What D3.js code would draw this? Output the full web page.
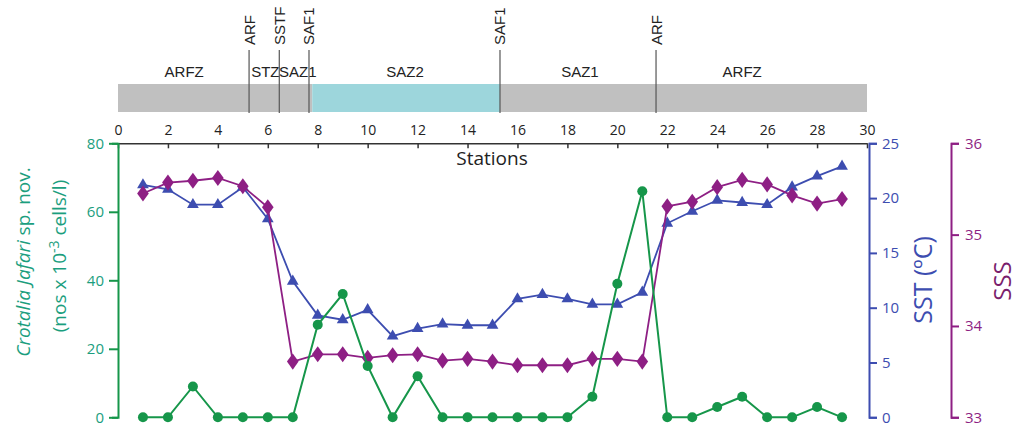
<!DOCTYPE html>
<html><head><meta charset="utf-8">
<script src="https://cdn.jsdelivr.net/npm/d3@7"></script>
<style>body{margin:0;background:#fff}svg{display:block}</style>
</head><body><svg id="c" width="1018" height="434"></svg>
<script>
const stations = d3.range(1, 30);
const cellCounts = [0,0,9,0,0,0,0,27,36,15,0,12,0,0,0,0,0,0,6,39,66,0,0,3,6,0,0,3,0];
const sst = [21.2,20.8,19.4,19.4,21.0,18.1,12.4,9.3,8.9,9.8,7.4,8.1,8.5,8.4,8.4,10.8,11.2,10.8,10.3,10.3,11.4,17.7,18.8,19.8,19.6,19.4,21.0,22.0,22.9];
const sss = [35.45,35.57,35.59,35.62,35.53,35.30,33.61,33.69,33.69,33.65,33.68,33.69,33.62,33.64,33.61,33.57,33.57,33.57,33.64,33.64,33.61,35.31,35.36,35.52,35.60,35.55,35.43,35.34,35.39];
const fronts = [{name:"ARF",x:5.25},{name:"SSTF",x:6.46},{name:"SAF1",x:7.65},{name:"SAF1",x:15.3},{name:"ARF",x:21.55}];
const zones = [{name:"ARFZ",from:0,to:5.25,fill:"#c0c0c0",lx:2.65},{name:"STZ",from:5.25,to:6.46,fill:"#c0c0c0",lx:5.9},{name:"SAZ1",from:6.46,to:7.78,fill:"#c0c0c0",lx:7.2},{name:"SAZ2",from:7.78,to:15.3,fill:"#9dd6dc",lx:11.5},{name:"SAZ1",from:15.3,to:21.55,fill:"#c0c0c0",lx:18.5},{name:"ARFZ",from:21.55,to:30,fill:"#c0c0c0",lx:25.0}];
const xTicks = d3.range(0, 31, 2);

const svg = d3.select("#c");
const yTop = 143.3, yBot = 417.3;
const x = d3.scaleLinear().domain([0,30]).range([118,867]);
const yC = d3.scaleLinear().domain([0,80]).range([yBot,yTop]);
const yT = d3.scaleLinear().domain([0,25]).range([yBot,yTop]);
const yS = d3.scaleLinear().domain([33,36]).range([yBot,yTop]);

const GREEN="#16964a", TEAL="#1b9e7e", BLUE="#3d4db0", PURPLE="#8e1f84", SSSLAB="#7a1d6c";
const f1 = "'Open Sans', sans-serif", f2 = "'Liberation Sans', Arial, sans-serif";

// zone band
svg.append("g").selectAll("rect").data(zones).join("rect")
  .attr("x", d=>x(d.from)).attr("width", d=>x(d.to)-x(d.from))
  .attr("y", 84).attr("height", 28).attr("fill", d=>d.fill);
svg.append("g").selectAll("text").data(zones).join("text")
  .attr("x", d=>x(d.lx)).attr("y", 77).attr("text-anchor","middle")
  .attr("font-family", f2).attr("font-size", 15).attr("fill","#222").text(d=>d.name);
const fr = svg.append("g").selectAll("g").data(fronts).join("g");
fr.append("line").attr("x1",d=>x(d.x)).attr("x2",d=>x(d.x)).attr("y1",50).attr("y2",113)
  .attr("stroke","#555").attr("stroke-width",1.2);
fr.append("text").attr("transform", d=>`translate(${x(d.x)+5.5},45) rotate(-90)`)
  .attr("font-family", f2).attr("font-size", 15).attr("fill","#222").text(d=>d.name);

// top axis
const ax = svg.append("g").attr("transform",`translate(0,${yTop})`)
  .call(d3.axisTop(x).tickValues(xTicks).tickSizeInner(-5).tickSizeOuter(0).tickPadding(8));
ax.select(".domain").attr("stroke","#333").attr("stroke-width",1.5);
ax.selectAll(".tick line").attr("stroke","#333").attr("stroke-width",1.5);
ax.selectAll("text").attr("font-family",f1).attr("font-size",14).attr("fill","#222");
svg.append("text").attr("x",492).attr("y",165).attr("text-anchor","middle")
  .attr("font-family",f1).attr("font-size",19).attr("fill","#222").text("Stations");

// left axis
const al = svg.append("g").attr("transform",`translate(118,0)`)
  .call(d3.axisLeft(yC).tickValues([0,20,40,60,80]).tickSizeInner(9).tickSizeOuter(6).tickPadding(5));
al.selectAll(".domain,.tick line").attr("stroke",GREEN).attr("stroke-width",2);
al.selectAll("text").attr("font-family",f1).attr("font-size",15).attr("fill",TEAL);

// SST axis
const at = svg.append("g").attr("transform",`translate(869,0)`)
  .call(d3.axisRight(yT).tickValues([0,5,10,15,20,25]).tickSizeInner(8).tickSizeOuter(8).tickPadding(5));
at.selectAll(".domain,.tick line").attr("stroke",BLUE).attr("stroke-width",2);
at.selectAll("text").attr("font-family",f1).attr("font-size",15).attr("fill",BLUE);

// SSS axis
const as = svg.append("g").attr("transform",`translate(951,0)`)
  .call(d3.axisRight(yS).tickValues([33,34,35,36]).tickFormat(d3.format("d")).tickSizeInner(8).tickSizeOuter(8).tickPadding(6));
as.selectAll(".domain,.tick line").attr("stroke",PURPLE).attr("stroke-width",2);
as.selectAll("text").attr("font-family",f1).attr("font-size",15).attr("fill",PURPLE);

// axis titles
const lt = svg.append("text").attr("transform","translate(30,262) rotate(-90)")
  .attr("text-anchor","middle").attr("font-family",f1).attr("font-size",19).attr("fill",TEAL);
lt.append("tspan").attr("font-style","italic").text("Crotalia Jafari");
lt.append("tspan").text(" sp. nov.");
const lt2 = svg.append("text").attr("transform","translate(66,256) rotate(-90)")
  .attr("text-anchor","middle").attr("font-family",f1).attr("font-size",19).attr("fill",TEAL);
lt2.append("tspan").text("(nos x 10");
lt2.append("tspan").attr("dy",-7).attr("font-size",14).text("-3");
lt2.append("tspan").attr("dy",7).text(" cells/l)");
svg.append("text").attr("transform","translate(932,280) rotate(-90)")
  .attr("text-anchor","middle").attr("font-family",f1).attr("font-size",25).attr("fill",BLUE).text("SST (ºC)");
svg.append("text").attr("transform","translate(1011,281) rotate(-90)")
  .attr("text-anchor","middle").attr("font-family",f1).attr("font-size",24).attr("fill",SSSLAB).text("SSS");

// series
const mk = (vals, ys) => stations.map((s,i)=>({s, v: vals[i], y: ys(vals[i])}));
const dT = mk(sst, yT), dS = mk(sss, yS), dC = mk(cellCounts, yC);
const line = d3.line().x(d=>x(d.s)).y(d=>d.y);

svg.append("path").datum(dT).attr("d",line).attr("fill","none").attr("stroke",BLUE).attr("stroke-width",1.8);
svg.append("g").selectAll("path").data(dT).join("path")
  .attr("d", d3.symbol(d3.symbolTriangle, 60)).attr("transform",d=>`translate(${x(d.s)},${d.y})`).attr("fill",BLUE);

svg.append("path").datum(dS).attr("d",line).attr("fill","none").attr("stroke",PURPLE).attr("stroke-width",1.8);
svg.append("g").selectAll("path").data(dS).join("path")
  .attr("d", d3.symbol(d3.symbolDiamond, 75)).attr("transform",d=>`translate(${x(d.s)},${d.y}) scale(1.25,1)`).attr("fill",PURPLE);

svg.append("path").datum(dC).attr("d",line).attr("fill","none").attr("stroke",GREEN).attr("stroke-width",2);
svg.append("g").selectAll("circle").data(dC).join("circle")
  .attr("cx",d=>x(d.s)).attr("cy",d=>d.y).attr("r",5).attr("fill",GREEN);
</script></body></html>
